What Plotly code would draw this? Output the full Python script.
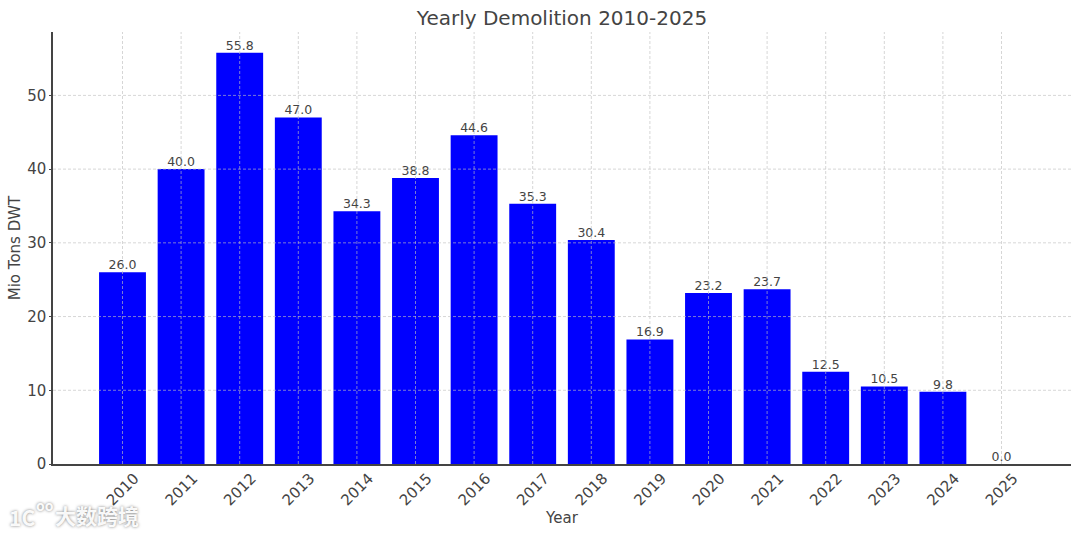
import plotly.graph_objects as go

years = [2010, 2011, 2012, 2013, 2014, 2015, 2016, 2017, 2018, 2019, 2020, 2021, 2022, 2023, 2024, 2025]
demolition = [26.0, 40.0, 55.8, 47.0, 34.3, 38.8, 44.6, 35.3, 30.4, 16.9, 23.2, 23.7, 12.5, 10.5, 9.8, 0.0]
y_ticks = [0, 10, 20, 30, 40, 50]
title = "Yearly Demolition 2010-2025"
x_title = "Year"
y_title = "Mio Tons DWT"
FONT = "DejaVu Sans"
INK = "#444444"
GRID = "rgba(190,190,190,0.8)"
WM_SHADOW = "0 0 3px #777777"

fig = go.Figure()
fig.add_trace(go.Bar(
    x=years, y=demolition, width=0.8,
    marker=dict(color="#0000ff", line=dict(width=0)),
    cliponaxis=False, hoverinfo="x+y",
))
fig.add_trace(go.Scatter(
    x=years, y=demolition, mode="text",
    text=[f"{v:.1f}" for v in demolition], textposition="top center",
    textfont=dict(family=FONT, size=12.5, color=INK),
    cliponaxis=False, hoverinfo="skip",
))

grid_shapes = [dict(type="line", layer="above", xref="x", yref="paper", x0=y, x1=y, y0=0, y1=1,
                    line=dict(color=GRID, width=0.8, dash="3px,2px")) for y in years]
grid_shapes += [dict(type="line", layer="above", xref="paper", yref="y", x0=0, x1=1, y0=v, y1=v,
                     line=dict(color=GRID, width=0.8, dash="3px,2px")) for v in y_ticks[1:]]

def watermark(text, x, y, size):
    return dict(text=text, xref="paper", yref="paper", x=x, y=y, xanchor="left", yanchor="middle",
                showarrow=False, borderpad=0,
                font=dict(family="Noto Sans CJK SC", size=size, weight=700, color="rgba(255,255,255,0.95)",
                          shadow=WM_SHADOW))

fig.update_layout(
    width=1080, height=535, margin=dict(l=53, r=9, t=32, b=71),
    paper_bgcolor="white", plot_bgcolor="white", showlegend=False,
    font=dict(family=FONT, color=INK),
    title=dict(text=title, x=0.5, xref="paper", xanchor="center", y=0.966, yanchor="middle",
               font=dict(family=FONT, size=20, color=INK)),
    shapes=grid_shapes,
    annotations=[watermark("大数跨境", 0.001, -0.119, 21),
                 watermark("1C", -0.044, -0.122, 21),
                 watermark("oo", -0.0175, -0.095, 14)],
)
fig.update_xaxes(
    range=[2008.814, 2026.186], tickmode="array", tickvals=years, ticktext=[str(y) for y in years],
    tickangle=-45, ticklabelshift=12, ticklabelstandoff=-2, tickfont=dict(family=FONT, size=15, color=INK),
    showgrid=False, zeroline=False, showline=True, linecolor=INK, linewidth=1.5,
    ticks="", automargin=False,
    title=dict(text=x_title, standoff=1, font=dict(family=FONT, size=15, color=INK)),
)
fig.update_yaxes(
    range=[0, 58.6], tickmode="array", tickvals=y_ticks,
    tickfont=dict(family=FONT, size=15, color=INK),
    showgrid=False, zeroline=False, showline=True, linecolor=INK, linewidth=1.5,
    ticks="outside", ticklen=2, tickwidth=1, tickcolor=INK, automargin=False,
    title=dict(text=y_title, standoff=3, font=dict(family=FONT, size=15, color=INK)),
)
fig.write_html("out.html", post_script="document.body.style.margin='0';", config={"displayModeBar": False})
